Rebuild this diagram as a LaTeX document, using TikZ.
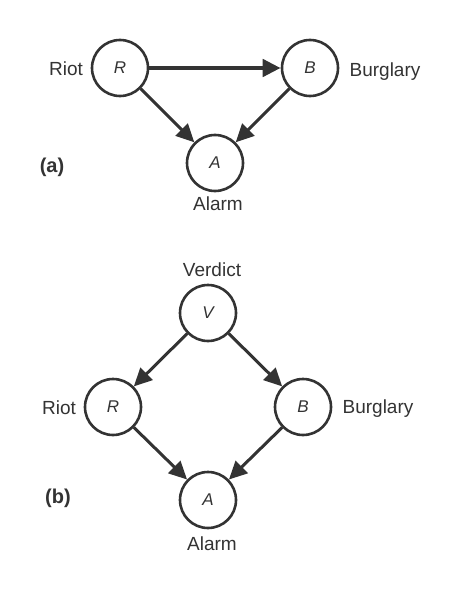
\documentclass[tikz,border=0pt]{standalone}
\usepackage{fontspec}
\setmainfont{Liberation Sans}
\usetikzlibrary{arrows.meta}
\definecolor{ink}{HTML}{333333}
\begin{document}
\begin{tikzpicture}[x=1pt,y=-1pt,
  var/.style={circle,draw=ink,line width=2.6pt,minimum size=56pt,inner sep=0pt,text=ink,font=\fontsize{17}{19}\selectfont\itshape},
  lbl/.style={text=ink,font=\fontsize{19}{22}\selectfont,inner sep=0pt},
  part/.style={text=ink,font=\fontsize{20}{23}\selectfont\bfseries,inner sep=0pt},
  arr/.style={draw=ink,line width=3pt,-{Triangle[length=18pt,width=17pt]}},
  harr/.style={arr,line width=4.5pt}]
\useasboundingbox (0,0) rectangle (460,594);
% (a)
\node[var] (aR) at (120,68) {R};
\node[var] (aB) at (310,68) {B};
\node[var] (aA) at (215,163) {A};
\node[lbl] (aRl) at (66,69) {Riot};
\node[lbl] (aBl) at (385,72) {Burglary};
\node[lbl] (aAl) at (218,204) {Alarm};
\node[part] (pa) at (52,167) {(a)};
\draw[harr] (aR) -- (aB);
\draw[arr] (aR) -- (aA);
\draw[arr] (aB) -- (aA);
% (b)
\node[var] (bV) at (208,313) {V};
\node[var] (bR) at (113,407) {R};
\node[var] (bB) at (303,407) {B};
\node[var] (bA) at (208,500) {A};
\node[lbl] (bVl) at (212,270) {Verdict};
\node[lbl] (bRl) at (59,408) {Riot};
\node[lbl] (bBl) at (378,409) {Burglary};
\node[lbl] (bAl) at (212,544) {Alarm};
\node[part] (pb) at (58,498) {(b)};
\draw[arr] (bV) -- (bR);
\draw[arr] (bV) -- (bB);
\draw[arr] (bR) -- (bA);
\draw[arr] (bB) -- (bA);
\end{tikzpicture}
\end{document}
